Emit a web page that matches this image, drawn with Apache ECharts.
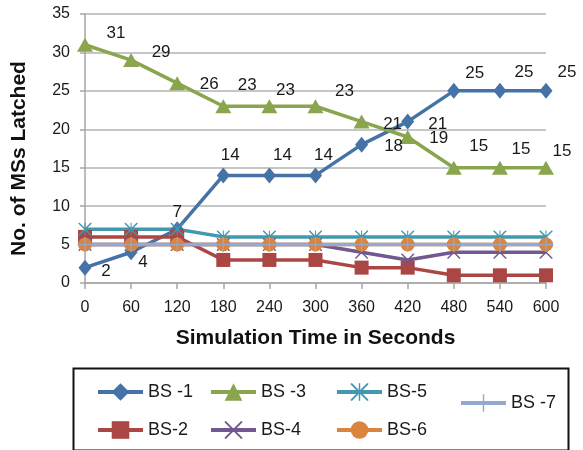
<!DOCTYPE html>
<html><head><meta charset="utf-8">
<script src="https://cdn.jsdelivr.net/npm/echarts@6/dist/echarts.min.js"></script>
<style>html,body{margin:0;padding:0;background:#fff}#c{width:583px;height:450px}</style>
</head><body><div id="c"></div>
<script>
var categories = ['0','60','120','180','240','300','360','420','480','540','600'];
var yTicks = [0,5,10,15,20,25,30,35];
var bs1 = [2,4,7,14,14,14,18,21,25,25,25];
var bs2 = [6,6,6,3,3,3,2,2,1,1,1];
var bs3 = [31,29,26,23,23,23,21,19,15,15,15];
var bs4 = [5,5,5,5,5,5,4,3,4,4,4];
var bs5 = [7,7,7,6,6,6,6,6,6,6,6];
var bs6 = [5,5,5,5,5,5,5,5,5,5,5];
var bs7 = [5,5,5,5,5,5,5,5,5,5,5];
var names = ['BS -1','BS-2','BS -3','BS-4','BS-5','BS-6','BS -7'];

// label placement offsets (style, not data)
var bs1Off = [[21,4],[12,10],[0,-17],[7,-20],[13,-20],[8,-20],[32,2],[30,3],[21,-18],[24,-19],[21,-19]];
var bs3Off = [[31,-11],[30,-8],[32,1],[24,-21],[16,-16],[29,-15],[31,3],[31,1],[25,-21],[21,-18],[16,-16]];

var FONT = 'Liberation Sans, Arial, sans-serif';
var xPath = 'path://M0,0 L1.6,0 L20,18.4 L20,20 L18.4,20 L0,1.6 Z M20,0 L20,1.6 L1.6,20 L0,20 L0,18.4 L18.4,0 Z';
var starPath = 'path://M0,0 L1.6,0 L20,18.4 L20,20 L18.4,20 L0,1.6 Z M20,0 L20,1.6 L1.6,20 L0,20 L0,18.4 L18.4,0 Z M9.2,0 L10.8,0 L10.8,20 L9.2,20 Z';
var plusPath = 'path://M9.2,0 L10.8,0 L10.8,20 L9.2,20 Z M0,9.2 L20,9.2 L20,10.8 L0,10.8 Z';

function labeled(vals, offs) {
  return vals.map(function (v, i) {
    return { value: v, label: { show: true, position: 'inside', offset: offs[i] } };
  });
}

function mk(name, data, color, symbol, size) {
  return {
    name: name, type: 'line', data: data, color: color,
    symbol: symbol, symbolSize: size, showAllSymbol: true,
    lineStyle: { width: 3.5, color: color },
    itemStyle: { color: color },
    label: { show: false, color: '#1a1a1a', fontSize: 17, fontFamily: FONT, align: 'center', verticalAlign: 'middle' },
    emphasis: { disabled: true },
    animation: false
  };
}

var series = [
  mk(names[0], labeled(bs1, bs1Off), '#4572A7', 'diamond', [13, 16]),
  mk(names[1], bs2, '#AA4643', 'rect', 14),
  mk(names[2], labeled(bs3, bs3Off), '#89A54E', 'triangle', [16, 14]),
  mk(names[3], bs4, '#71588F', xPath, 13),
  mk(names[4], bs5, '#4198AF', starPath, 13),
  mk(names[5], bs6, '#DB843D', 'circle', 14),
  mk(names[6], bs7, '#93A9CF', plusPath, 15)
];

function leg(data, left, top) {
  return {
    data: data, orient: 'vertical', left: left, top: top,
    itemWidth: 45, itemHeight: 22, itemGap: 20, padding: 0,
    selectedMode: false,
    lineStyle: { width: 4 },
    textStyle: { fontSize: 18, fontFamily: FONT, color: '#1a1a1a' }
  };
}

var chart = echarts.init(document.getElementById('c'));
chart.setOption({
  backgroundColor: '#fff',
  animation: false,
  grid: { left: 85, right: 37, top: 14, bottom: 167, containLabel: false },
  xAxis: {
    type: 'category', data: categories, boundaryGap: false,
    name: 'Simulation Time in Seconds', nameLocation: 'middle', nameGap: 45,
    nameTextStyle: { fontSize: 21, fontWeight: 'bold', fontFamily: FONT, color: '#111' },
    axisLine: { show: true, lineStyle: { color: '#a6a6a6', width: 1.5 } },
    axisTick: { show: true, alignWithLabel: true, length: 6, lineStyle: { color: '#a6a6a6', width: 1.5 } },
    axisLabel: { fontSize: 16, fontFamily: FONT, color: '#1a1a1a', margin: 17 },
    splitLine: { show: false }
  },
  yAxis: {
    type: 'value', min: 0, max: 35, interval: 5,
    name: 'No. of MSs Latched', nameLocation: 'middle', nameGap: 55, nameRotate: 90,
    nameTextStyle: { fontSize: 21, fontWeight: 'bold', fontFamily: FONT, color: '#111', padding: [0, 20, 0, 0] },
    axisLine: { show: true, lineStyle: { color: '#a6a6a6', width: 1.5 } },
    axisTick: { show: true, length: 5, lineStyle: { color: '#a6a6a6', width: 1.5 } },
    axisLabel: { fontSize: 16, fontFamily: FONT, color: '#1a1a1a', margin: 15,
      formatter: function (v) { return yTicks.indexOf(v) >= 0 ? String(v) : ''; } },
    splitLine: { show: true, lineStyle: { color: '#b3b3b3', width: 1.5 } }
  },
  legend: [
    leg([names[0], names[1]], 96, 383),
    leg([names[2], names[3]], 209, 383),
    leg([names[4], names[5]], 335, 383),
    leg([names[6]], 459, 394)
  ],
  graphic: [{
    type: 'rect', left: 71, top: 366,
    shape: { width: 495, height: 82 },
    style: { fill: 'none', stroke: '#111', lineWidth: 2 },
    silent: true
  }],
  series: series
});
</script>
</body></html>
